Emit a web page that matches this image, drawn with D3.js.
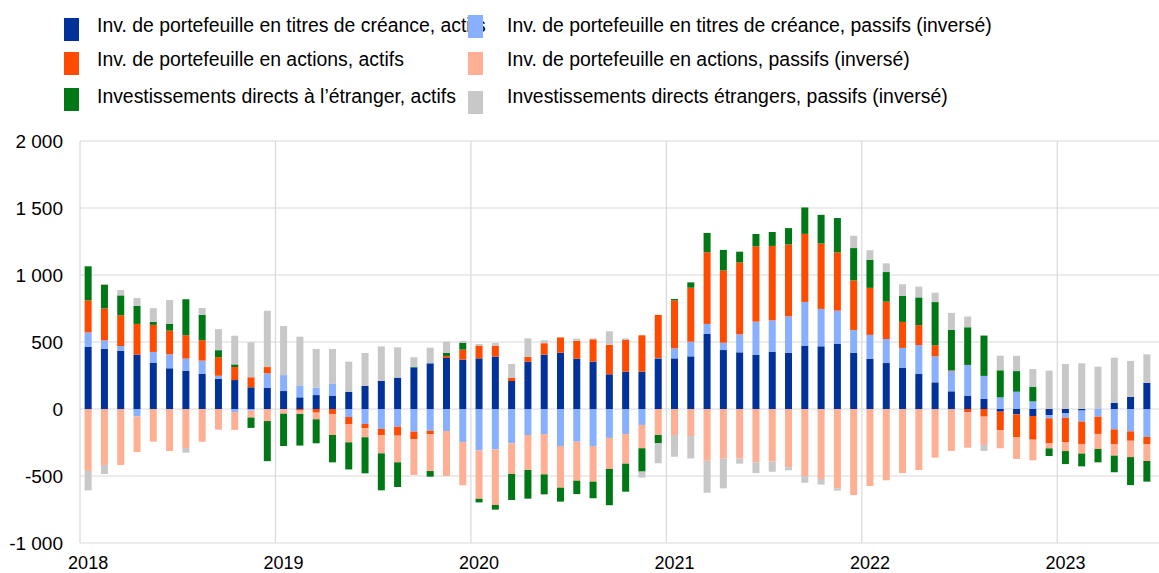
<!DOCTYPE html>
<html>
<head>
<meta charset="utf-8">
<script src="https://cdn.jsdelivr.net/npm/d3@7/dist/d3.min.js"></script>
<style>
body{margin:0;background:#fff}
svg{display:block;font-family:"Liberation Sans",Arial,sans-serif}
</style>
</head>
<body>
<div id="chart"></div>
<script>
// monthly data, Jan 2018 - Jun 2023
var years = ["2018","2019","2020","2021","2022","2023"]
var months = []
years.forEach(function(y){
    for(var m=1;m<=12;m++){ months.push(y+"-"+(m<10?"0"+m:m)) }
})
months = months.slice(0,66)

var debtAssets = [465,450,433,406,346,304,286,264,226,216,162,159,
    134,87,104,100,129,172,211,234,309,341,381,368,
    378,391,209,353,406,420,376,353,259,279,279,378,
    378,393,560,440,423,406,428,420,473,468,485,420,
    376,343,309,261,199,132,100,75,-20,-40,-52,-45,
    -30,-12,0,45,90,194]
var debtLiab = [107,62,37,-55,80,104,90,97,22,-22,-12,107,
    119,85,55,87,-60,-112,-149,-132,-169,-162,-164,-246,
    -309,-301,-256,-194,-187,-276,-244,-276,-216,-187,-119,3,
    75,109,75,55,134,246,234,271,326,279,249,169,
    177,179,147,216,194,152,229,172,87,129,57,-25,
    -35,-82,-57,-152,-167,-209]
var equityAssets = [239,239,229,229,202,177,174,152,139,97,75,47,
    0,-12,-27,-37,-52,-32,-45,-67,-57,-25,15,75,
    95,82,25,35,85,114,132,167,221,236,271,321,
    358,403,535,540,537,562,555,537,508,488,435,371,
    351,279,194,149,82,5,-25,-57,-139,-169,-177,-187,
    -184,-167,-129,-109,-70,-55]
var equityLiab = [-463,-418,-418,-266,-244,-313,-291,-244,-154,-134,-52,-90,
    -35,-25,-50,-157,-137,-67,-137,-199,-266,-276,-336,-323,
    -361,-415,-229,-261,-301,-311,-291,-266,-231,-221,-174,-194,
    -194,-202,-386,-371,-371,-398,-393,-435,-500,-522,-592,-642,
    -575,-532,-478,-455,-363,-313,-264,-211,-134,-164,-154,-37,
    -65,-72,-112,-87,-122,-124]
var fdiAssets = [254,177,149,134,22,50,269,189,52,20,-77,-299,
    -241,-236,-179,-204,-202,-269,-276,-184,5,-42,22,50,
    -27,-35,-194,-214,-149,-104,-100,-124,-271,-209,-174,-62,
    10,40,144,152,80,92,104,122,197,214,256,241,
    209,221,194,207,323,301,281,301,202,154,107,-57,
    -97,-95,-100,-124,-209,-154]
var fdiLiab = [-144,-67,40,60,102,179,-35,52,157,214,261,420,
    366,368,289,261,224,246,256,226,72,117,85,15,
    12,20,102,139,22,0,17,7,100,12,-45,-149,
    -162,-167,-239,-221,-37,-80,-75,-22,-50,-42,-17,92,
    72,65,87,80,70,127,80,-45,109,114,134,286,
    336,341,316,338,269,214]

var seriesNames = [
    "Inv. de portefeuille en titres de créance, actifs",
    "Inv. de portefeuille en titres de créance, passifs (inversé)",
    "Inv. de portefeuille en actions, actifs",
    "Inv. de portefeuille en actions, passifs (inversé)",
    "Investissements directs à l’étranger, actifs",
    "Investissements directs étrangers, passifs (inversé)"]
var seriesColors = ["#003299","#89b0ff","#ff4b00","#ffb094","#007816","#c8c8c8"]
var yTicks = [-1000,-500,0,500,1000,1500,2000]
var yTickLabels = ["-1 000","-500","0","500","1 000","1 500","2 000"]

var keys = ["da","dl","ea","el","fa","fl"]
var table = months.map(function(m,i){
    return {month:m,da:debtAssets[i],dl:debtLiab[i],ea:equityAssets[i],
        el:equityLiab[i],fa:fdiAssets[i],fl:fdiLiab[i]}
})

var width = 1159
var height = 573
var plotLeft = 80, plotRight = 1155, plotTop = 141, plotBottom = 543

var svg = d3.select("#chart").append("svg").attr("width",width).attr("height",height)

var x = d3.scaleBand().domain(months).range([plotLeft,plotRight]).paddingInner(0.57).paddingOuter(0.285)
var y = d3.scaleLinear().domain([-1000,2000]).range([plotBottom,plotTop])

// horizontal grid
svg.selectAll(".hgrid")
    .data(yTicks)
    .enter()
    .append("line")
    .attr("x1",plotLeft).attr("x2",width)
    .attr("y1",function(d){return y(d)}).attr("y2",function(d){return y(d)})
    .attr("stroke","#d9d9d9").attr("stroke-width",1.2)

// vertical grid at each year start
var step = x.step()
svg.selectAll(".vgrid")
    .data(years)
    .enter()
    .append("line")
    .attr("x1",function(d,i){return plotLeft+i*12*step})
    .attr("x2",function(d,i){return plotLeft+i*12*step})
    .attr("y1",plotTop).attr("y2",plotBottom)
    .attr("stroke","#d9d9d9").attr("stroke-width",1.2)

var stacked = d3.stack().keys(keys).offset(d3.stackOffsetDiverging)(table)

svg.selectAll(".series")
    .data(stacked)
    .enter()
    .append("g")
    .attr("fill",function(d,i){return seriesColors[i]})
    .selectAll("rect")
    .data(function(d){return d})
    .enter()
    .append("rect")
    .attr("x",function(d){return x(d.data.month)})
    .attr("width",x.bandwidth())
    .attr("y",function(d){return y(Math.max(d[0],d[1]))})
    .attr("height",function(d){return Math.abs(y(d[0])-y(d[1]))})

// y axis labels
var yAxis = d3.axisLeft(y).tickValues(yTicks)
    .tickFormat(function(d,i){return yTickLabels[i]})
    .tickSize(0).tickPadding(17)
var axis = svg.append("g").attr("transform","translate("+plotLeft+",0)").call(yAxis)
axis.select(".domain").remove()
axis.selectAll("text").attr("font-size",19).attr("fill","#000")
    .attr("font-family","Liberation Sans, Arial, sans-serif")

// year labels, centred on the january bar
svg.selectAll(".year")
    .data(years)
    .enter()
    .append("text")
    .text(function(d){return d})
    .attr("x",function(d){return x(d+"-01")+x.bandwidth()/2})
    .attr("y",569)
    .attr("text-anchor","middle")
    .attr("font-size",18)

// legend: two columns, three rows
var legendX = [64,468]
var legendTextX = [97,507]
var legendRowY = [25,59,96]
var swatchY = [[18,52,88],[15,52,91]]
var legend = svg.append("g")
var order = [0,2,4,1,3,5]
order.forEach(function(s,k){
    var col = k<3?0:1
    var row = k%3
    legend.append("text")
        .text(seriesNames[s])
        .attr("x",legendTextX[col])
        .attr("y",legendRowY[row])
        .attr("dy","0.35em")
        .attr("font-size",19.4)
})
order.forEach(function(s,k){
    var col = k<3?0:1
    var row = k%3
    legend.append("rect")
        .attr("x",legendX[col])
        .attr("y",swatchY[col][row])
        .attr("width",15).attr("height",23)
        .attr("fill",seriesColors[s])
})
</script>
</body>
</html>
